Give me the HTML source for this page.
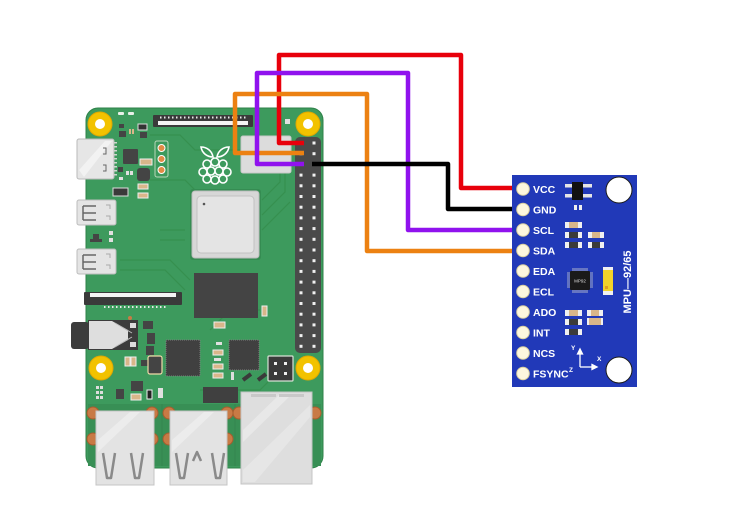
<!DOCTYPE html>
<html><head><meta charset="utf-8"><style>
html,body{margin:0;padding:0;background:#fff;}
svg{display:block;}
text{font-family:"Liberation Sans",sans-serif;}
</style></head><body>
<svg width="748" height="532" viewBox="0 0 748 532" xmlns="http://www.w3.org/2000/svg">
<rect width="748" height="532" fill="#fff"/>

<!-- ===== Raspberry Pi board ===== -->
<rect x="86" y="108" width="237" height="360" rx="12" fill="#3d9a5d" stroke="#2f8249" stroke-width="1"/>
<!-- subtle traces -->
<g stroke="#36904f" stroke-width="1.2" fill="none">
<path d="M150 135 H180 L195 150 H240"/>
<path d="M150 180 H185 L200 195"/>
<path d="M262 200 L280 182 V140"/>
<path d="M262 215 L285 192 V150"/>
<path d="M262 230 L290 202"/>
<path d="M120 260 H170 L190 280"/>
<path d="M120 270 H165 L185 290"/>
<path d="M210 330 L230 310 H260"/>
<path d="M200 390 H260 L285 365"/>
<path d="M160 230 H185"/>
<path d="M160 240 H185"/>
</g>
<!-- darker band behind ports -->
<rect x="88" y="404" width="233" height="62" fill="#388f55"/>
<line x1="162" y1="404" x2="162" y2="466" stroke="#33854e" stroke-width="1"/>
<line x1="235" y1="404" x2="235" y2="466" stroke="#33854e" stroke-width="1"/>

<!-- mount holes -->
<g>
<circle cx="100" cy="124" r="12" fill="#f2c200" stroke="#e0a800"/><circle cx="100" cy="124" r="5" fill="#fff"/>
<circle cx="308" cy="124" r="12" fill="#f2c200" stroke="#e0a800"/><circle cx="308" cy="124" r="5" fill="#fff"/>
<circle cx="101" cy="368" r="12" fill="#f2c200" stroke="#e0a800"/><circle cx="101" cy="368" r="5" fill="#fff"/>
<circle cx="308" cy="368" r="12" fill="#f2c200" stroke="#e0a800"/><circle cx="308" cy="368" r="5" fill="#fff"/>
</g>

<!-- top small parts -->
<rect x="118" y="112" width="6" height="3" rx="1" fill="#e8efe8"/>
<rect x="128" y="112" width="6" height="3" rx="1" fill="#e8efe8"/>
<rect x="119" y="124" width="5" height="4" fill="#444"/>
<rect x="119" y="131" width="7" height="6" fill="#444"/>
<rect x="129" y="129" width="2" height="5" fill="#d9b68a"/><rect x="132" y="129" width="2" height="5" fill="#d9b68a"/>
<rect x="138" y="124" width="9" height="6" fill="#333" stroke="#ddd" stroke-width="1"/>
<rect x="140" y="132" width="7" height="6" fill="#444"/>

<!-- HDMI -->
<rect x="77" y="139" width="37" height="40" rx="2" fill="#e6e6e6" stroke="#b9b9b9"/>
<path d="M79 170 L105 141 H112 L84 177 Z" fill="#f2f2f2"/>
<path d="M103 148 h3 v6 h-3" fill="none" stroke="#666" stroke-width="1"/>
<path d="M103 165 h3 v6 h-3" fill="none" stroke="#666" stroke-width="1"/>
<g fill="#d0d6d0"><rect x="114" y="142" width="3" height="1.5"/><rect x="114" y="146" width="3" height="1.5"/><rect x="114" y="150" width="3" height="1.5"/><rect x="114" y="154" width="3" height="1.5"/><rect x="114" y="158" width="3" height="1.5"/><rect x="114" y="162" width="3" height="1.5"/><rect x="114" y="166" width="3" height="1.5"/><rect x="114" y="170" width="3" height="1.5"/><rect x="114" y="174" width="3" height="1.5"/></g>

<!-- parts near HDMI -->
<rect x="123" y="149" width="15" height="15" rx="1" fill="#444"/>
<rect x="140" y="159" width="12" height="6" fill="#d9b68a" stroke="#eee" stroke-width="1"/>
<rect x="118" y="167" width="5" height="5" fill="#444"/>
<rect x="126" y="171" width="3" height="4" fill="#e0e0e0"/><rect x="130" y="171" width="3" height="4" fill="#e0e0e0"/>
<rect x="119" y="177" width="4" height="3" fill="#e0e0e0"/>
<rect x="137" y="168" width="13" height="13" rx="3" fill="#444"/>
<rect x="113" y="188" width="15" height="8" fill="#3a3a3a" stroke="#ddd" stroke-width="1"/>
<rect x="138" y="184" width="10" height="5" fill="#d9b68a" stroke="#eee" stroke-width="1"/>
<rect x="138" y="193" width="10" height="5" fill="#d9b68a" stroke="#eee" stroke-width="1"/>

<!-- 3-pin orange header -->
<rect x="155" y="141" width="13" height="36" rx="2" fill="#3d9a5d" stroke="#b9d7b9" stroke-width="1"/>
<circle cx="161.5" cy="148" r="3.5" fill="#e28b45" stroke="#fff" stroke-width="1"/>
<circle cx="161.5" cy="159" r="3.5" fill="#e28b45" stroke="#fff" stroke-width="1"/>
<circle cx="161.5" cy="170" r="3.5" fill="#e28b45" stroke="#fff" stroke-width="1"/>

<!-- micro HDMI / USB-C ports -->
<rect x="77" y="200" width="39" height="25" rx="2" fill="#e4e4e4" stroke="#bcbcbc"/>
<path d="M83 206 h13 M83 213 h13 M83 220 h13 M83 206 v14" stroke="#666" stroke-width="1.5" fill="none"/>
<path d="M106 205 h4 v4 M106 216 h4 v4" stroke="#aaa" stroke-width="1" fill="none"/>
<rect x="77" y="249" width="39" height="25" rx="2" fill="#e4e4e4" stroke="#bcbcbc"/>
<path d="M83 255 h13 M83 262 h13 M83 269 h13 M83 255 v14" stroke="#666" stroke-width="1.5" fill="none"/>
<path d="M106 254 h4 v4 M106 265 h4 v4" stroke="#aaa" stroke-width="1" fill="none"/>
<rect x="93" y="234" width="6" height="5" fill="#444"/><rect x="90" y="239" width="12" height="3" fill="#444"/>
<rect x="109" y="231" width="4" height="4" fill="#e0e0e0"/><rect x="109" y="238" width="4" height="4" fill="#e0e0e0"/>

<!-- top FPC connector -->
<rect x="153" y="115" width="100" height="12" rx="1" fill="#3a3a3a"/>
<rect x="158" y="121" width="90" height="4" fill="#f4f4f4"/>
<g fill="#e8e8e8"><rect x="160" y="116.5" width="1.5" height="2"/><rect x="164" y="116.5" width="1.5" height="2"/><rect x="168" y="116.5" width="1.5" height="2"/><rect x="172" y="116.5" width="1.5" height="2"/><rect x="176" y="116.5" width="1.5" height="2"/><rect x="180" y="116.5" width="1.5" height="2"/><rect x="184" y="116.5" width="1.5" height="2"/><rect x="188" y="116.5" width="1.5" height="2"/><rect x="192" y="116.5" width="1.5" height="2"/><rect x="196" y="116.5" width="1.5" height="2"/><rect x="200" y="116.5" width="1.5" height="2"/><rect x="204" y="116.5" width="1.5" height="2"/><rect x="208" y="116.5" width="1.5" height="2"/><rect x="212" y="116.5" width="1.5" height="2"/><rect x="216" y="116.5" width="1.5" height="2"/><rect x="220" y="116.5" width="1.5" height="2"/><rect x="224" y="116.5" width="1.5" height="2"/><rect x="228" y="116.5" width="1.5" height="2"/><rect x="232" y="116.5" width="1.5" height="2"/><rect x="236" y="116.5" width="1.5" height="2"/><rect x="240" y="116.5" width="1.5" height="2"/><rect x="244" y="116.5" width="1.5" height="2"/></g>
<rect x="285" y="119" width="5" height="5" fill="#e0e0e0"/>

<!-- wireless module -->
<rect x="241" y="136" width="50" height="37" rx="2" fill="#dcdcdc" stroke="#c8c8c8"/>

<!-- Raspberry logo -->
<g fill="none" stroke="#fff" stroke-width="1.6">
<path d="M213 157 C207 157 202 153 201 147 C207 147 212 151 213 157 Z"/>
<path d="M217 157 C223 157 228 153 229 147 C223 147 218 151 217 157 Z"/>
<circle cx="215" cy="162" r="4"/>
<circle cx="207" cy="164" r="4"/>
<circle cx="223" cy="164" r="4"/>
<circle cx="203" cy="172" r="4"/>
<circle cx="211" cy="171" r="4"/>
<circle cx="219" cy="171" r="4"/>
<circle cx="227" cy="172" r="4"/>
<circle cx="207" cy="179" r="4"/>
<circle cx="215" cy="180" r="4"/>
<circle cx="223" cy="179" r="4"/>
</g>

<!-- CPU -->
<rect x="190" y="189" width="71" height="71" rx="3" fill="#358c52"/>
<rect x="192" y="191" width="67" height="67" rx="3" fill="#d7d7d7" stroke="#bdbdbd"/>
<rect x="197" y="196" width="57" height="57" rx="4" fill="#e4e4e4" stroke="#c2c2c2"/>
<circle cx="204" cy="204" r="1.3" fill="#555"/>

<!-- RAM -->
<rect x="194" y="273" width="64" height="45" fill="#444"/>
<rect x="262" y="306" width="5" height="10" fill="#d9b68a" stroke="#eee" stroke-width="1"/>
<rect x="214" y="322" width="11" height="6" fill="#d9b68a" stroke="#eee" stroke-width="1"/>

<!-- display FPC -->
<rect x="84" y="292" width="98" height="13" rx="1" fill="#3a3a3a"/>
<rect x="90" y="293" width="86" height="4" fill="#f4f4f4"/>
<g fill="#e8e8e8"><rect x="104" y="306" width="1.5" height="2"/><rect x="108" y="306" width="1.5" height="2"/><rect x="112" y="306" width="1.5" height="2"/><rect x="116" y="306" width="1.5" height="2"/><rect x="120" y="306" width="1.5" height="2"/><rect x="124" y="306" width="1.5" height="2"/><rect x="128" y="306" width="1.5" height="2"/><rect x="132" y="306" width="1.5" height="2"/><rect x="136" y="306" width="1.5" height="2"/><rect x="140" y="306" width="1.5" height="2"/><rect x="144" y="306" width="1.5" height="2"/><rect x="148" y="306" width="1.5" height="2"/><rect x="152" y="306" width="1.5" height="2"/><rect x="156" y="306" width="1.5" height="2"/><rect x="160" y="306" width="1.5" height="2"/><rect x="164" y="306" width="1.5" height="2"/></g>

<!-- audio jack -->
<rect x="71" y="322" width="18" height="27" rx="3" fill="#3c3c3c"/>
<rect x="88" y="320" width="50" height="30" fill="#3c3c3c"/>
<path d="M89 321 H112 L128 330 V340 L112 349 H89 Z" fill="#dedede"/>
<path d="M115 323 L132 333 M115 347 L132 337" stroke="#bbb" stroke-width="1"/>
<rect x="130" y="323" width="6" height="5" fill="#ddd"/><rect x="130" y="342" width="6" height="5" fill="#ddd"/>
<circle cx="130" cy="318" r="2" fill="#c87a45"/>
<rect x="143" y="321" width="10" height="8" fill="#444"/>
<rect x="147" y="333" width="8" height="11" fill="#444"/>

<!-- small parts mid -->
<rect x="146" y="346" width="8" height="9" fill="#444"/>
<rect x="125" y="357" width="5" height="9" fill="#d9b68a" stroke="#eee" stroke-width="1"/>
<rect x="131" y="357" width="5" height="9" fill="#d9b68a" stroke="#eee" stroke-width="1"/>
<rect x="141" y="360" width="11" height="6" fill="#444"/>
<rect x="148" y="356" width="14" height="18" rx="2" fill="#444" stroke="#f0d9a8" stroke-width="1.2"/>
<rect x="96" y="386" width="3" height="3" fill="#ddd"/><rect x="100" y="386" width="3" height="3" fill="#ddd"/>
<rect x="96" y="391" width="3" height="3" fill="#ddd"/><rect x="100" y="391" width="3" height="3" fill="#ddd"/>
<rect x="96" y="396" width="3" height="3" fill="#ddd"/><rect x="100" y="396" width="3" height="3" fill="#ddd"/>
<rect x="116" y="389" width="8" height="10" fill="#444"/>
<rect x="131" y="381" width="12" height="10" fill="#444"/>
<rect x="131" y="394" width="10" height="6" fill="#d9b68a" stroke="#eee" stroke-width="1"/>
<rect x="147" y="390" width="5" height="9" fill="#222" stroke="#eee" stroke-width="1"/>
<rect x="158" y="388" width="5" height="10" fill="#e0e0e0"/>

<!-- USB chips -->
<rect x="166" y="340" width="34" height="36" fill="#404040" stroke="#7a7a7a" stroke-width="1" stroke-dasharray="1 1"/>
<rect x="229" y="340" width="30" height="30" fill="#404040" stroke="#7a7a7a" stroke-width="1" stroke-dasharray="1 1"/>
<rect x="216" y="342" width="6" height="3" fill="#e0e0e0"/>
<rect x="213" y="350" width="10" height="5" fill="#d9b68a" stroke="#eee" stroke-width="1"/>
<rect x="214" y="358" width="7" height="3" fill="#e0e0e0"/>
<rect x="213" y="364" width="10" height="5" fill="#d9b68a" stroke="#eee" stroke-width="1"/>
<rect x="213" y="373" width="10" height="5" fill="#d9b68a" stroke="#eee" stroke-width="1"/>
<rect x="231" y="372" width="3" height="8" fill="#ddd"/>
<path d="M243 380 L251 374 M258 380 L266 374" stroke="#3a3a3a" stroke-width="4"/>

<!-- PoE header -->
<rect x="268" y="356" width="25" height="25" rx="1" fill="#3a3a3a" stroke="#d8e2d6" stroke-width="1.2"/>
<rect x="274" y="362" width="3" height="3" fill="#eee"/><rect x="284" y="362" width="3" height="3" fill="#eee"/>
<rect x="274" y="372" width="3" height="3" fill="#eee"/><rect x="284" y="372" width="3" height="3" fill="#eee"/>

<!-- dark rect -->
<rect x="203" y="387" width="35" height="16" fill="#404040"/>

<!-- copper pads -->
<g fill="#c87a45" stroke="#a65d2e" stroke-width="1">
<circle cx="93" cy="413" r="6"/><circle cx="152" cy="413" r="6"/><circle cx="93" cy="439" r="6"/><circle cx="152" cy="439" r="6"/>
<circle cx="169" cy="413" r="6"/><circle cx="227" cy="413" r="6"/><circle cx="169" cy="439" r="6"/><circle cx="227" cy="439" r="6"/>
<circle cx="239" cy="413" r="6"/><circle cx="315" cy="413" r="6"/>
</g>

<!-- USB 1 -->
<rect x="96" y="411" width="58" height="74" fill="#e3e3e3" stroke="#c4c4c4"/>
<path d="M98 440 L130 412 H140 L98 452 Z" fill="#ececec"/>
<path d="M103 453 L107 478 H111 L115 453 M131 453 L135 478 H139 L143 453" stroke="#8a8a8a" stroke-width="2.5" fill="none" stroke-linejoin="round"/>
<!-- USB 2 -->
<rect x="170" y="411" width="57" height="74" fill="#e3e3e3" stroke="#c4c4c4"/>
<path d="M172 440 L204 412 H214 L172 452 Z" fill="#ececec"/>
<path d="M176 453 L180 478 H184 L188 453 M212 453 L216 478 H220 L224 453 M193 461 L197 452 L201 461" stroke="#8a8a8a" stroke-width="2.5" fill="none" stroke-linejoin="round"/>
<!-- Ethernet -->
<rect x="241" y="392" width="71" height="92" fill="#dedede" stroke="#c4c4c4"/>
<path d="M243 430 L280 394 H292 L243 442 Z" fill="#e8e8e8"/>
<path d="M243 470 L310 405 V417 L255 482 H243 Z" fill="#e6e6e6"/>
<rect x="251" y="394" width="25" height="3" fill="#c8c8c8"/>
<rect x="279" y="394" width="25" height="3" fill="#c8c8c8"/>

<!-- GPIO header -->
<g fill="#4a4a4a">
<rect x="295" y="137" width="26" height="216" rx="5"/>
</g>
<g fill="#4a4a4a">
<circle cx="301" cy="143" r="5.6"/><circle cx="314" cy="143" r="5.6"/>
<circle cx="301" cy="347" r="5.6"/><circle cx="314" cy="347" r="5.6"/>
</g>
<g fill="#f0f0f0" id="pins">
<rect x="299.5" y="141.5" width="3" height="3"/><rect x="312.5" y="141.5" width="3" height="3"/>
<rect x="299.5" y="152.2" width="3" height="3"/><rect x="312.5" y="152.2" width="3" height="3"/>
<rect x="299.5" y="162.9" width="3" height="3"/><rect x="312.5" y="162.9" width="3" height="3"/>
<rect x="299.5" y="173.6" width="3" height="3"/><rect x="312.5" y="173.6" width="3" height="3"/>
<rect x="299.5" y="184.3" width="3" height="3"/><rect x="312.5" y="184.3" width="3" height="3"/>
<rect x="299.5" y="195.0" width="3" height="3"/><rect x="312.5" y="195.0" width="3" height="3"/>
<rect x="299.5" y="205.7" width="3" height="3"/><rect x="312.5" y="205.7" width="3" height="3"/>
<rect x="299.5" y="216.4" width="3" height="3"/><rect x="312.5" y="216.4" width="3" height="3"/>
<rect x="299.5" y="227.1" width="3" height="3"/><rect x="312.5" y="227.1" width="3" height="3"/>
<rect x="299.5" y="237.8" width="3" height="3"/><rect x="312.5" y="237.8" width="3" height="3"/>
<rect x="299.5" y="248.5" width="3" height="3"/><rect x="312.5" y="248.5" width="3" height="3"/>
<rect x="299.5" y="259.2" width="3" height="3"/><rect x="312.5" y="259.2" width="3" height="3"/>
<rect x="299.5" y="269.9" width="3" height="3"/><rect x="312.5" y="269.9" width="3" height="3"/>
<rect x="299.5" y="280.6" width="3" height="3"/><rect x="312.5" y="280.6" width="3" height="3"/>
<rect x="299.5" y="291.3" width="3" height="3"/><rect x="312.5" y="291.3" width="3" height="3"/>
<rect x="299.5" y="302.0" width="3" height="3"/><rect x="312.5" y="302.0" width="3" height="3"/>
<rect x="299.5" y="312.7" width="3" height="3"/><rect x="312.5" y="312.7" width="3" height="3"/>
<rect x="299.5" y="323.4" width="3" height="3"/><rect x="312.5" y="323.4" width="3" height="3"/>
<rect x="299.5" y="334.1" width="3" height="3"/><rect x="312.5" y="334.1" width="3" height="3"/>
<rect x="299.5" y="344.8" width="3" height="3"/><rect x="312.5" y="344.8" width="3" height="3"/>
</g>

<!-- ===== Wires ===== -->
<g fill="none" stroke-width="4.5" stroke-linejoin="round" stroke-linecap="butt">
<path d="M304 143 H279 V55 H461 V188 H513" stroke="#e8000b"/>
<path d="M304 153 H235 V94 H367 V251 H513" stroke="#ec8112"/>
<path d="M304 164 H257 V73 H408 V230 H513" stroke="#9012ee"/>
<path d="M312 164 H448 V209 H513" stroke="#000"/>
</g>

<!-- ===== MPU module ===== -->
<rect x="512" y="175" width="125" height="212" fill="#2139b8"/>
<g fill="#fdf7de" stroke="#d9cf9f" stroke-width="1">
<circle cx="523" cy="189" r="6.3"/><circle cx="523" cy="209.5" r="6.3"/><circle cx="523" cy="230" r="6.3"/><circle cx="523" cy="250.5" r="6.3"/><circle cx="523" cy="271" r="6.3"/><circle cx="523" cy="291.5" r="6.3"/><circle cx="523" cy="312" r="6.3"/><circle cx="523" cy="332.5" r="6.3"/><circle cx="523" cy="353" r="6.3"/><circle cx="523" cy="373.5" r="6.3"/>
</g>
<g fill="#fff" font-size="10.5" font-weight="bold">
<text x="533" y="193">VCC</text>
<text x="533" y="213.5">GND</text>
<text x="533" y="234">SCL</text>
<text x="533" y="254.5">SDA</text>
<text x="533" y="275">EDA</text>
<text x="533" y="295.5">ECL</text>
<text x="533" y="316">ADO</text>
<text x="533" y="336.5">INT</text>
<text x="533" y="357">NCS</text>
<text x="533" y="377.5">FSYNC</text>
</g>
<circle cx="619" cy="190" r="13" fill="#fff" stroke="#1a1a1a" stroke-width="1"/>
<circle cx="619" cy="370" r="13" fill="#fff" stroke="#1a1a1a" stroke-width="1"/>

<!-- top IC -->
<rect x="565" y="184" width="27" height="3.5" fill="#e6e6e6"/>
<rect x="565" y="194" width="27" height="3.5" fill="#e6e6e6"/>
<rect x="572" y="182" width="11" height="18" fill="#111"/>
<rect x="574" y="205" width="3" height="5" fill="#eee"/><rect x="579" y="205" width="3" height="5" fill="#eee"/>

<!-- resistors/caps -->
<g>
<rect x="565" y="222" width="17" height="6" fill="#f0f0f0"/><rect x="569" y="222" width="9" height="6" fill="#d9b68a"/>
<rect x="565" y="232" width="17" height="6" fill="#f0f0f0"/><rect x="569" y="232" width="9" height="6" fill="#3b3b3b"/>
<rect x="588" y="232" width="16" height="6" fill="#f0f0f0"/><rect x="592" y="232" width="8" height="6" fill="#d9b68a"/>
<rect x="565" y="242" width="17" height="6" fill="#f0f0f0"/><rect x="569" y="242" width="9" height="6" fill="#3b3b3b"/>
<rect x="588" y="242" width="16" height="6" fill="#f0f0f0"/><rect x="592" y="242" width="8" height="6" fill="#3b3b3b"/>

<rect x="565" y="310" width="17" height="6" fill="#f0f0f0"/><rect x="569" y="310" width="9" height="6" fill="#d9b68a"/>
<rect x="587" y="310" width="16" height="6" fill="#f0f0f0"/><rect x="591" y="310" width="8" height="6" fill="#d9b68a"/>
<rect x="565" y="319" width="17" height="6" fill="#f0f0f0"/><rect x="569" y="319" width="9" height="6" fill="#3b3b3b"/>
<rect x="587" y="318" width="16" height="7" fill="#f0f0f0"/><rect x="589" y="318" width="12" height="7" fill="#d9b68a"/>
<rect x="565" y="329" width="17" height="6" fill="#f0f0f0"/><rect x="569" y="329" width="9" height="6" fill="#3b3b3b"/>
</g>

<!-- chip -->
<g stroke="#d0d0d0" stroke-width="0.8">
<path d="M573 268v3 M575 268v3 M577 268v3 M579 268v3 M581 268v3 M583 268v3 M585 268v3 M587 268v3"/>
<path d="M573 290v3 M575 290v3 M577 290v3 M579 290v3 M581 290v3 M583 290v3 M585 290v3 M587 290v3"/>
<path d="M567 273h3 M567 275h3 M567 277h3 M567 279h3 M567 281h3 M567 283h3 M567 285h3 M567 287h3"/>
<path d="M590 273h3 M590 275h3 M590 277h3 M590 279h3 M590 281h3 M590 283h3 M590 285h3 M590 287h3"/>
</g>
<rect x="570" y="271" width="20" height="19" rx="1" fill="#1a1a1a"/>
<text x="580" y="282.5" fill="#ddd" font-size="4.5" text-anchor="middle">MP92</text>

<!-- yellow part -->
<rect x="603" y="267" width="10" height="28" fill="#f0f0f0"/>
<rect x="603" y="270" width="10" height="21" fill="#f2d32a"/>
<rect x="605" y="286" width="3" height="3" fill="#e0a020"/>

<!-- label -->
<text transform="translate(631,282) rotate(-90)" fill="#fff" font-size="11" font-weight="bold" text-anchor="middle">MPU—92/65</text>

<!-- axes -->
<g stroke="#fff" stroke-width="1.3" fill="#fff">
<line x1="580" y1="367" x2="580" y2="353"/>
<line x1="580" y1="367" x2="593" y2="367"/>
<path d="M577.5 354 L580 349 L582.5 354 Z"/>
<path d="M592 364.5 L597 367 L592 369.5 Z"/>
</g>
<g fill="#fff" font-size="6.5" font-weight="bold">
<text x="571" y="350">Y</text>
<text x="597" y="361">X</text>
<text x="569" y="372">Z</text>
</g>
</svg>
</body></html>
